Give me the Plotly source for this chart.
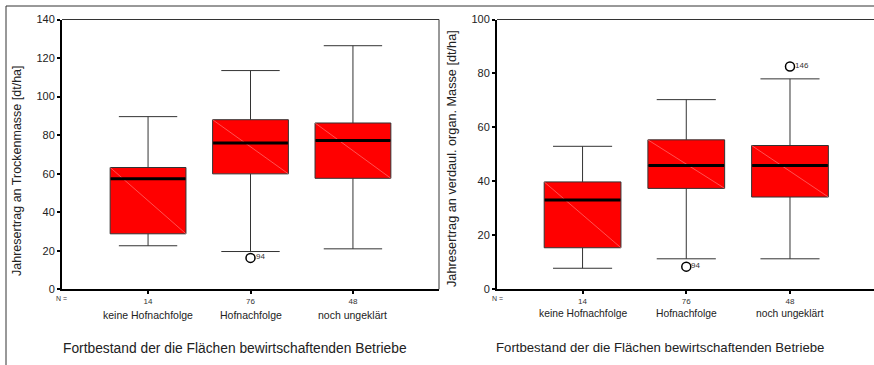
import plotly.graph_objects as go

W, H = 874, 365

categories = ["keine Hofnachfolge", "Hofnachfolge", "noch ungeklärt"]
n_counts = ["14", "76", "48"]
positions = [1, 2, 3]

# Left: Jahresertrag an Trockenmasse
tm_lower = [22.6, 19.6, 21.0]
tm_q1 = [28.8, 59.9, 57.6]
tm_median = [57.3, 75.9, 77.2]
tm_q3 = [63.2, 88.0, 86.3]
tm_upper = [89.6, 113.5, 126.4]
tm_out_pos = [2]
tm_out_val = [16.3]
tm_out_lab = ["94"]

# Right: Jahresertrag an verdaul. organ. Masse
om_lower = [7.8, 11.3, 11.3]
om_q1 = [15.4, 37.4, 34.2]
om_median = [33.1, 45.9, 45.9]
om_q3 = [39.8, 55.4, 53.3]
om_upper = [53.0, 70.3, 78.0]
om_out_pos = [2, 3]
om_out_val = [8.4, 82.6]
om_out_lab = ["94", "146"]

FONT = "Liberation Sans, Arial, sans-serif"
BOXW = 0.74
DARK = "#333333"

fig = go.Figure(layout=dict(template="none"))


def add_panel(xa, ya, lower, q1, med, q3, upper, opos, oval, olab):
    for i, p in enumerate(positions):
        fig.add_trace(go.Box(
            x=[p], q1=[q1[i]], median=[med[i]], q3=[q3[i]],
            lowerfence=[lower[i]], upperfence=[upper[i]],
            width=BOXW, whiskerwidth=0.77, fillcolor="#ff0000",
            line=dict(color=DARK, width=1), boxpoints=False,
            xaxis=xa, yaxis=ya, showlegend=False, hoverinfo="skip"))
        # faint diagonal across the box
        fig.add_trace(go.Scatter(
            x=[p - BOXW / 2, p + BOXW / 2], y=[q3[i], q1[i]], mode="lines",
            line=dict(color="rgba(255,170,170,0.8)", width=0.6),
            xaxis=xa, yaxis=ya, showlegend=False, hoverinfo="skip"))
        # thick median
        fig.add_trace(go.Scatter(
            x=[p - BOXW / 2 + 0.005, p + BOXW / 2 - 0.005], y=[med[i], med[i]],
            mode="lines", line=dict(color="black", width=3),
            xaxis=xa, yaxis=ya, showlegend=False, hoverinfo="skip"))
    fig.add_trace(go.Scatter(
        x=opos, y=oval, mode="markers",
        marker=dict(symbol="circle-open", size=9, color="black",
                    line=dict(width=1.5, color="black")),
        xaxis=xa, yaxis=ya, showlegend=False, hoverinfo="skip", cliponaxis=False))
    for p, v, t in zip(opos, oval, olab):
        fig.add_annotation(x=p, y=v, xref=xa, yref=ya, text=t, showarrow=False,
                           xanchor="left", yanchor="middle", xshift=3, yshift=1,
                           font=dict(family=FONT, size=8, color=DARK))


add_panel("x", "y", tm_lower, tm_q1, tm_median, tm_q3, tm_upper,
          tm_out_pos, tm_out_val, tm_out_lab)
add_panel("x2", "y2", om_lower, om_q1, om_median, om_q3, om_upper,
          om_out_pos, om_out_val, om_out_lab)

ybot = (H - 289.3) / H
ytop = (H - 19.5) / H

xcommon = dict(tickmode="array", tickvals=positions, ticktext=n_counts,
               ticks="outside", ticklen=3, tickwidth=2, tickcolor="black",
               showline=True, linecolor="black", linewidth=2,
               showgrid=False, zeroline=False, automargin=False,
               tickfont=dict(family=FONT, size=8, color=DARK))
ycommon = dict(ticks="outside", ticklen=3, tickwidth=2, tickcolor="black",
               showline=True, linecolor="black", linewidth=2,
               showgrid=False, zeroline=False, dtick=20, automargin=False,
               tickfont=dict(family=FONT, size=11, color="#222"))

fig.update_layout(
    width=W, height=H, margin=dict(l=0, r=0, t=0, b=0, pad=0),
    paper_bgcolor="white", plot_bgcolor="white", showlegend=False,
    xaxis=dict(domain=[62 / W, 439 / W], range=[0.16, 3.84], anchor="y", **xcommon),
    yaxis=dict(domain=[ybot, ytop], range=[0, 140], anchor="x", **ycommon),
    xaxis2=dict(domain=[497 / W, 1.0], range=[0.175, 3.81], anchor="y2", **xcommon),
    yaxis2=dict(domain=[ybot, ytop], range=[0, 100], anchor="x2", **ycommon),
)

shapes = [
    # outer frame
    dict(type="line", xref="paper", yref="paper", x0=6 / W, x1=6 / W,
         y0=1 - 6 / H, y1=0, line=dict(color=DARK, width=1)),
    dict(type="line", xref="paper", yref="paper", x0=6 / W, x1=1,
         y0=1 - 6 / H, y1=1 - 6 / H, line=dict(color=DARK, width=1)),
    # left frame top & right
    dict(type="line", xref="x domain", yref="y domain", x0=0, x1=1, y0=1, y1=1,
         line=dict(color=DARK, width=1)),
    dict(type="line", xref="x domain", yref="y domain", x0=1, x1=1, y0=0, y1=1,
         line=dict(color=DARK, width=1)),
    # right frame top
    dict(type="line", xref="x2 domain", yref="y2 domain", x0=0, x1=1, y0=1, y1=1,
         line=dict(color=DARK, width=1)),
]
fig.update_layout(shapes=shapes)


def px(x, y):
    return x / W, 1 - y / H


def add_text(**kw):
    d = dict(showarrow=False, xanchor="center", yanchor="middle")
    d.update(kw)
    fig.add_annotation(**d)


for xa, label_y, fs in (("x", 315, 10.5), ("x2", 313, 10.3)):
    for p, c in zip(positions, categories):
        add_text(x=p, xref=xa, y=1 - label_y / H, yref="paper", text=c,
                 font=dict(family=FONT, size=fs, color="#222"))
    add_text(x=0, xref=xa + " domain", y=1 - 298 / H, yref="paper", text="N =",
             font=dict(family=FONT, size=7, color=DARK))

x0, y0 = px(235, 348)
add_text(x=x0, y=y0, xref="paper", yref="paper",
         text="Fortbestand der die Flächen bewirtschaftenden Betriebe",
         font=dict(family=FONT, size=13.8, color="#222"))
x0, y0 = px(660, 347)
add_text(x=x0, y=y0, xref="paper", yref="paper",
         text="Fortbestand der die Flächen bewirtschaftenden Betriebe",
         font=dict(family=FONT, size=13.2, color="#222"))
x0, y0 = px(17, 171)
add_text(x=x0, y=y0, xref="paper", yref="paper", textangle=-90,
         text="Jahresertrag an Trockenmasse [dt/ha]",
         font=dict(family=FONT, size=12.5, color="#222"))
x0, y0 = px(452, 159)
add_text(x=x0, y=y0, xref="paper", yref="paper", textangle=-90,
         text="Jahresertrag an verdaul. organ. Masse [dt/ha]",
         font=dict(family=FONT, size=12.7, color="#222"))

fig.write_html(
    "out.html",
    config={"displayModeBar": False},
    post_script="document.body.style.margin='0';document.body.style.overflow='hidden';",
)
